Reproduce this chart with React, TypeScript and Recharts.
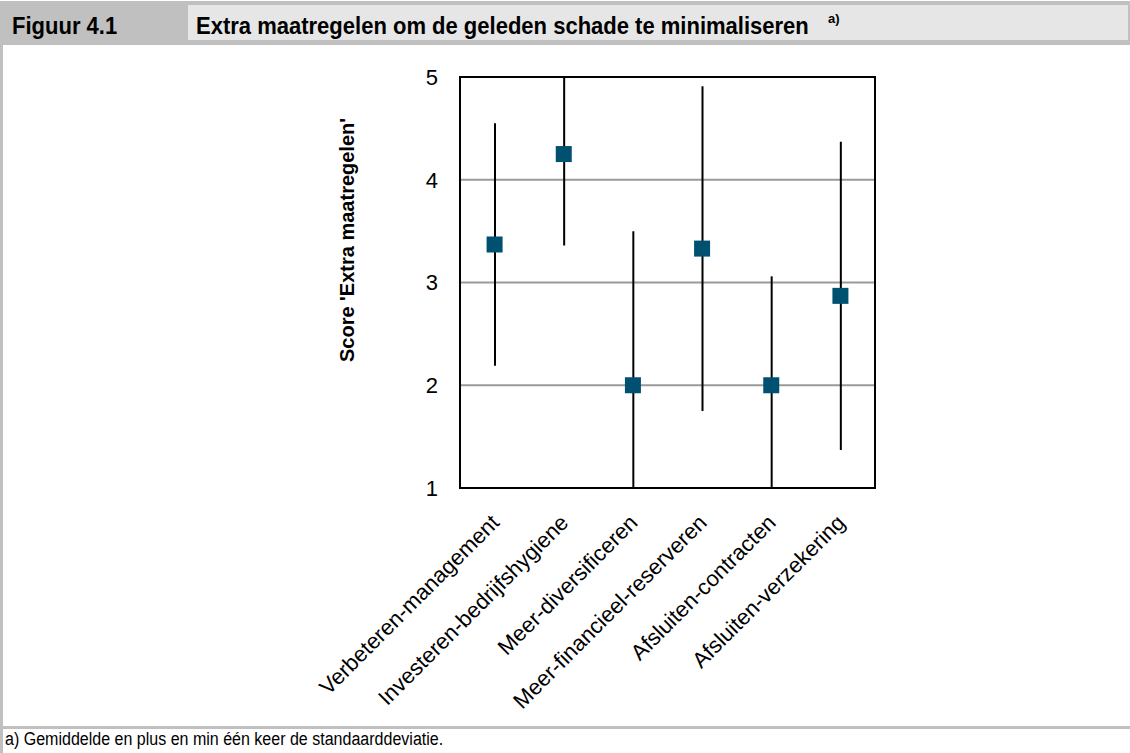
import React from "react";
import {
  ComposedChart,
  Scatter,
  Bar,
  XAxis,
  YAxis,
  CartesianGrid,
  ReferenceArea,
} from "recharts";

const categories = [
  "Verbeteren-management",
  "Investeren-bedrijfshygiene",
  "Meer-diversificeren",
  "Meer-financieel-reserveren",
  "Afsluiten-contracten",
  "Afsluiten-verzekering",
];
const means = [3.37, 4.25, 2.0, 3.33, 2.0, 2.87];
const stdDevs = [1.18, 0.89, 1.5, 1.58, 1.06, 1.5];
const yTicks = [1, 2, 3, 4, 5];

const data = categories.map((name, i) => ({
  name,
  mean: means[i],
  sd: stdDevs[i],
  // mean minus / plus one standard deviation
  range: [means[i] - stdDevs[i], means[i] + stdDevs[i]],
}));

const sans = "'Liberation Sans', Arial, sans-serif";
const markerColor = "#00516f";
const frameGrey = "#c0c0c0";

function XTick({ x, y, payload }: any) {
  return (
    <g transform={`translate(${x + 6},${y + 34})`}>
      <text
        textAnchor="end"
        transform="rotate(-45)"
        fontSize={22}
        fontFamily={sans}
        fill="#000"
      >
        {payload.value}
      </text>
    </g>
  );
}

function YLabel({ viewBox }: any) {
  const cx = viewBox.x - 53;
  const cy = viewBox.y + 163;
  return (
    <text
      x={cx}
      y={cy}
      transform={`rotate(-90 ${cx} ${cy})`}
      textAnchor="middle"
      dominantBaseline="central"
      fontSize={20}
      fontWeight="bold"
      fontFamily={sans}
      fill="#000"
    >
      Score 'Extra maatregelen'
    </text>
  );
}

function Square({ cx, cy }: any) {
  return <rect x={cx - 8} y={cy - 8} width={16} height={16} fill={markerColor} />;
}

const headText: React.CSSProperties = {
  position: "absolute",
  top: 12,
  fontWeight: "bold",
  fontSize: 24,
  lineHeight: "28px",
  color: "#000",
  whiteSpace: "nowrap",
  transform: "scaleX(0.917)",
  transformOrigin: "left center",
};

export default function App() {
  return (
    <div
      style={{
        position: "absolute",
        left: 0,
        top: 0,
        width: 1130,
        height: 753,
        background: "#fff",
        overflow: "hidden",
        fontFamily: sans,
      }}
    >
      {/* header */}
      <div
        style={{
          position: "absolute",
          left: 0,
          top: 1,
          width: 1130,
          height: 44,
          background: frameGrey,
        }}
      />
      <div
        style={{
          position: "absolute",
          left: 188,
          top: 5,
          width: 940,
          height: 35,
          background: "#e6e6e6",
        }}
      />
      <div style={{ ...headText, left: 12 }}>Figuur 4.1</div>
      <div style={{ ...headText, left: 196 }}>
        Extra maatregelen om de geleden schade te minimaliseren
      </div>
      <div
        style={{
          position: "absolute",
          left: 828,
          top: 11,
          fontWeight: "bold",
          fontSize: 13,
          lineHeight: "16px",
          color: "#000",
        }}
      >
        a)
      </div>

      {/* body borders */}
      <div
        style={{
          position: "absolute",
          left: 0,
          top: 45,
          width: 3,
          height: 708,
          background: frameGrey,
        }}
      />
      <div
        style={{
          position: "absolute",
          left: 0,
          top: 726,
          width: 1130,
          height: 3,
          background: frameGrey,
        }}
      />
      <div
        style={{
          position: "absolute",
          left: 5,
          top: 728,
          fontSize: 18,
          lineHeight: "22px",
          color: "#000",
          whiteSpace: "nowrap",
          transform: "scaleX(0.89)",
          transformOrigin: "left center",
        }}
      >
        a) Gemiddelde en plus en min één keer de standaarddeviatie.
      </div>

      <div style={{ position: "absolute", left: 0, top: 45 }}>
        <ComposedChart
          width={1130}
          height={681}
          data={data}
          margin={{ top: 32, right: 255, left: 400, bottom: 8 }}
        >
          <CartesianGrid
            horizontal
            vertical={false}
            stroke="#9a9a9a"
            strokeWidth={2}
          />
          <XAxis
            dataKey="name"
            type="category"
            interval={0}
            tickLine={false}
            axisLine={false}
            tickSize={0}
            height={230}
            tick={<XTick />}
          />
          <YAxis
            type="number"
            domain={[1, 5]}
            ticks={yTicks}
            allowDataOverflow
            width={60}
            tickLine={false}
            axisLine={false}
            tickSize={0}
            tickMargin={22}
            tick={{ fontSize: 22, fontFamily: sans, fill: "#000" }}
            label={<YLabel />}
          />
          <Bar
            dataKey="range"
            barSize={2}
            fill="#000"
            isAnimationActive={false}
          />
          <ReferenceArea
            y1={1}
            y2={5}
            fill="none"
            fillOpacity={0}
            stroke="#000"
            strokeWidth={2}
            ifOverflow="visible"
          />
          <Scatter
            dataKey="mean"
            shape={<Square />}
            isAnimationActive={false}
          />
        </ComposedChart>
      </div>
    </div>
  );
}
